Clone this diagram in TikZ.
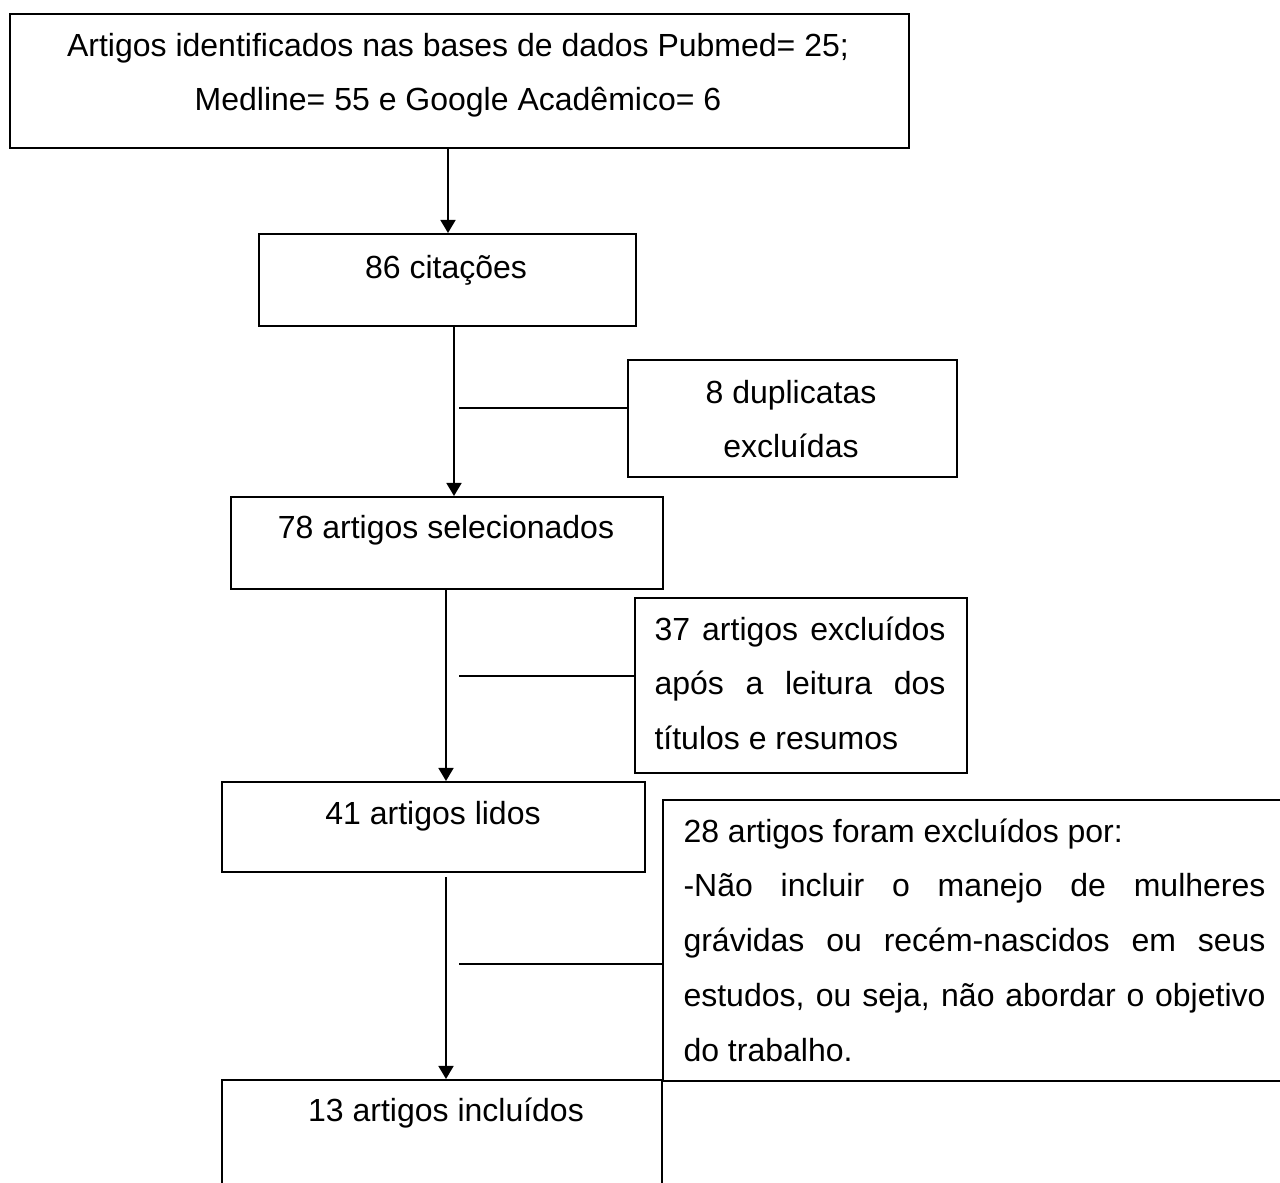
\documentclass[tikz,border=0pt]{standalone}
\usepackage{fontspec}
\setmainfont{Liberation Sans}
\usetikzlibrary{arrows.meta}

\newcommand\pxu{0.375pt}

\begin{document}
\begin{tikzpicture}[x=0.375pt,y=-0.375pt,
  box/.style={draw, line width=0.75pt, inner sep=0pt, anchor=north west},
  txt/.style={inner sep=0pt, anchor=base, font=\fontsize{12pt}{20.6pt}\selectfont},
  para/.style={txt, anchor=base west, align=justify},
  flow/.style={line width=0.75pt, -{Triangle[length=4.9pt,width=5.6pt]}},
  side/.style={line width=0.75pt}]
  \useasboundingbox (0,0) rectangle (1280,1183);
  \clip (0,0) rectangle (1280,1183);

  % boxes
  \foreach \n/\x/\y/\w/\h in {top/9/13/899/134, cit/258/233/377/92,
    dup/627/359/329/117, sel/230/496/432/92, tit/634/597/332/175,
    lid/221/781/423/90, exc/662/799/700/281, inc/221/1079/440/200}{
    \node[box, minimum width=\w*\pxu, minimum height=\h*\pxu] (\n) at (\x,\y) {};
  }

  % texts
  \node[txt, text width=899*\pxu, align=flush center] (ttop) at (458,56)
    {Artigos identificados nas bases de dados Pubmed= 25;\\Medline= 55 e Google Acadêmico= 6};
  \node[txt] (tcit) at (446,278) {86 citações};
  \node[txt, text width=329*\pxu, align=flush center] (tdup) at (791,403)
    {8 duplicatas\\excluídas};
  \node[txt] (tsel) at (446,538) {78 artigos selecionados};
  \node[para, text width=291*\pxu] (ttit) at (654,640)
    {37 artigos excluídos\linebreak após a leitura dos\linebreak títulos e resumos};
  \node[txt] (tlid) at (433,824) {41 artigos lidos};
  \node[para, text width=582*\pxu] (texc) at (683,842)
    {28 artigos foram excluídos por:\\-Não incluir o manejo de mulheres\linebreak
     grávidas ou recém-nascidos em seus\linebreak estudos, ou seja, não abordar o
     objetivo\linebreak do trabalho.};
  \node[txt] (tinc) at (446,1121) {13 artigos incluídos};

  % connectors
  \foreach \a/\b/\x in {top/cit/448, cit/sel/454, sel/lid/446}
    \draw[flow] (\a.south -| \x,0) -- (\b.north -| \x,0);
  \coordinate (gap) at (446,877);
  \draw[flow] (gap) -- (inc.north -| gap);
  \foreach \b/\y in {dup/408, tit/676, exc/964}
    \draw[side] (459,\y) -- (\b.west |- 0,\y);
\end{tikzpicture}
\end{document}
